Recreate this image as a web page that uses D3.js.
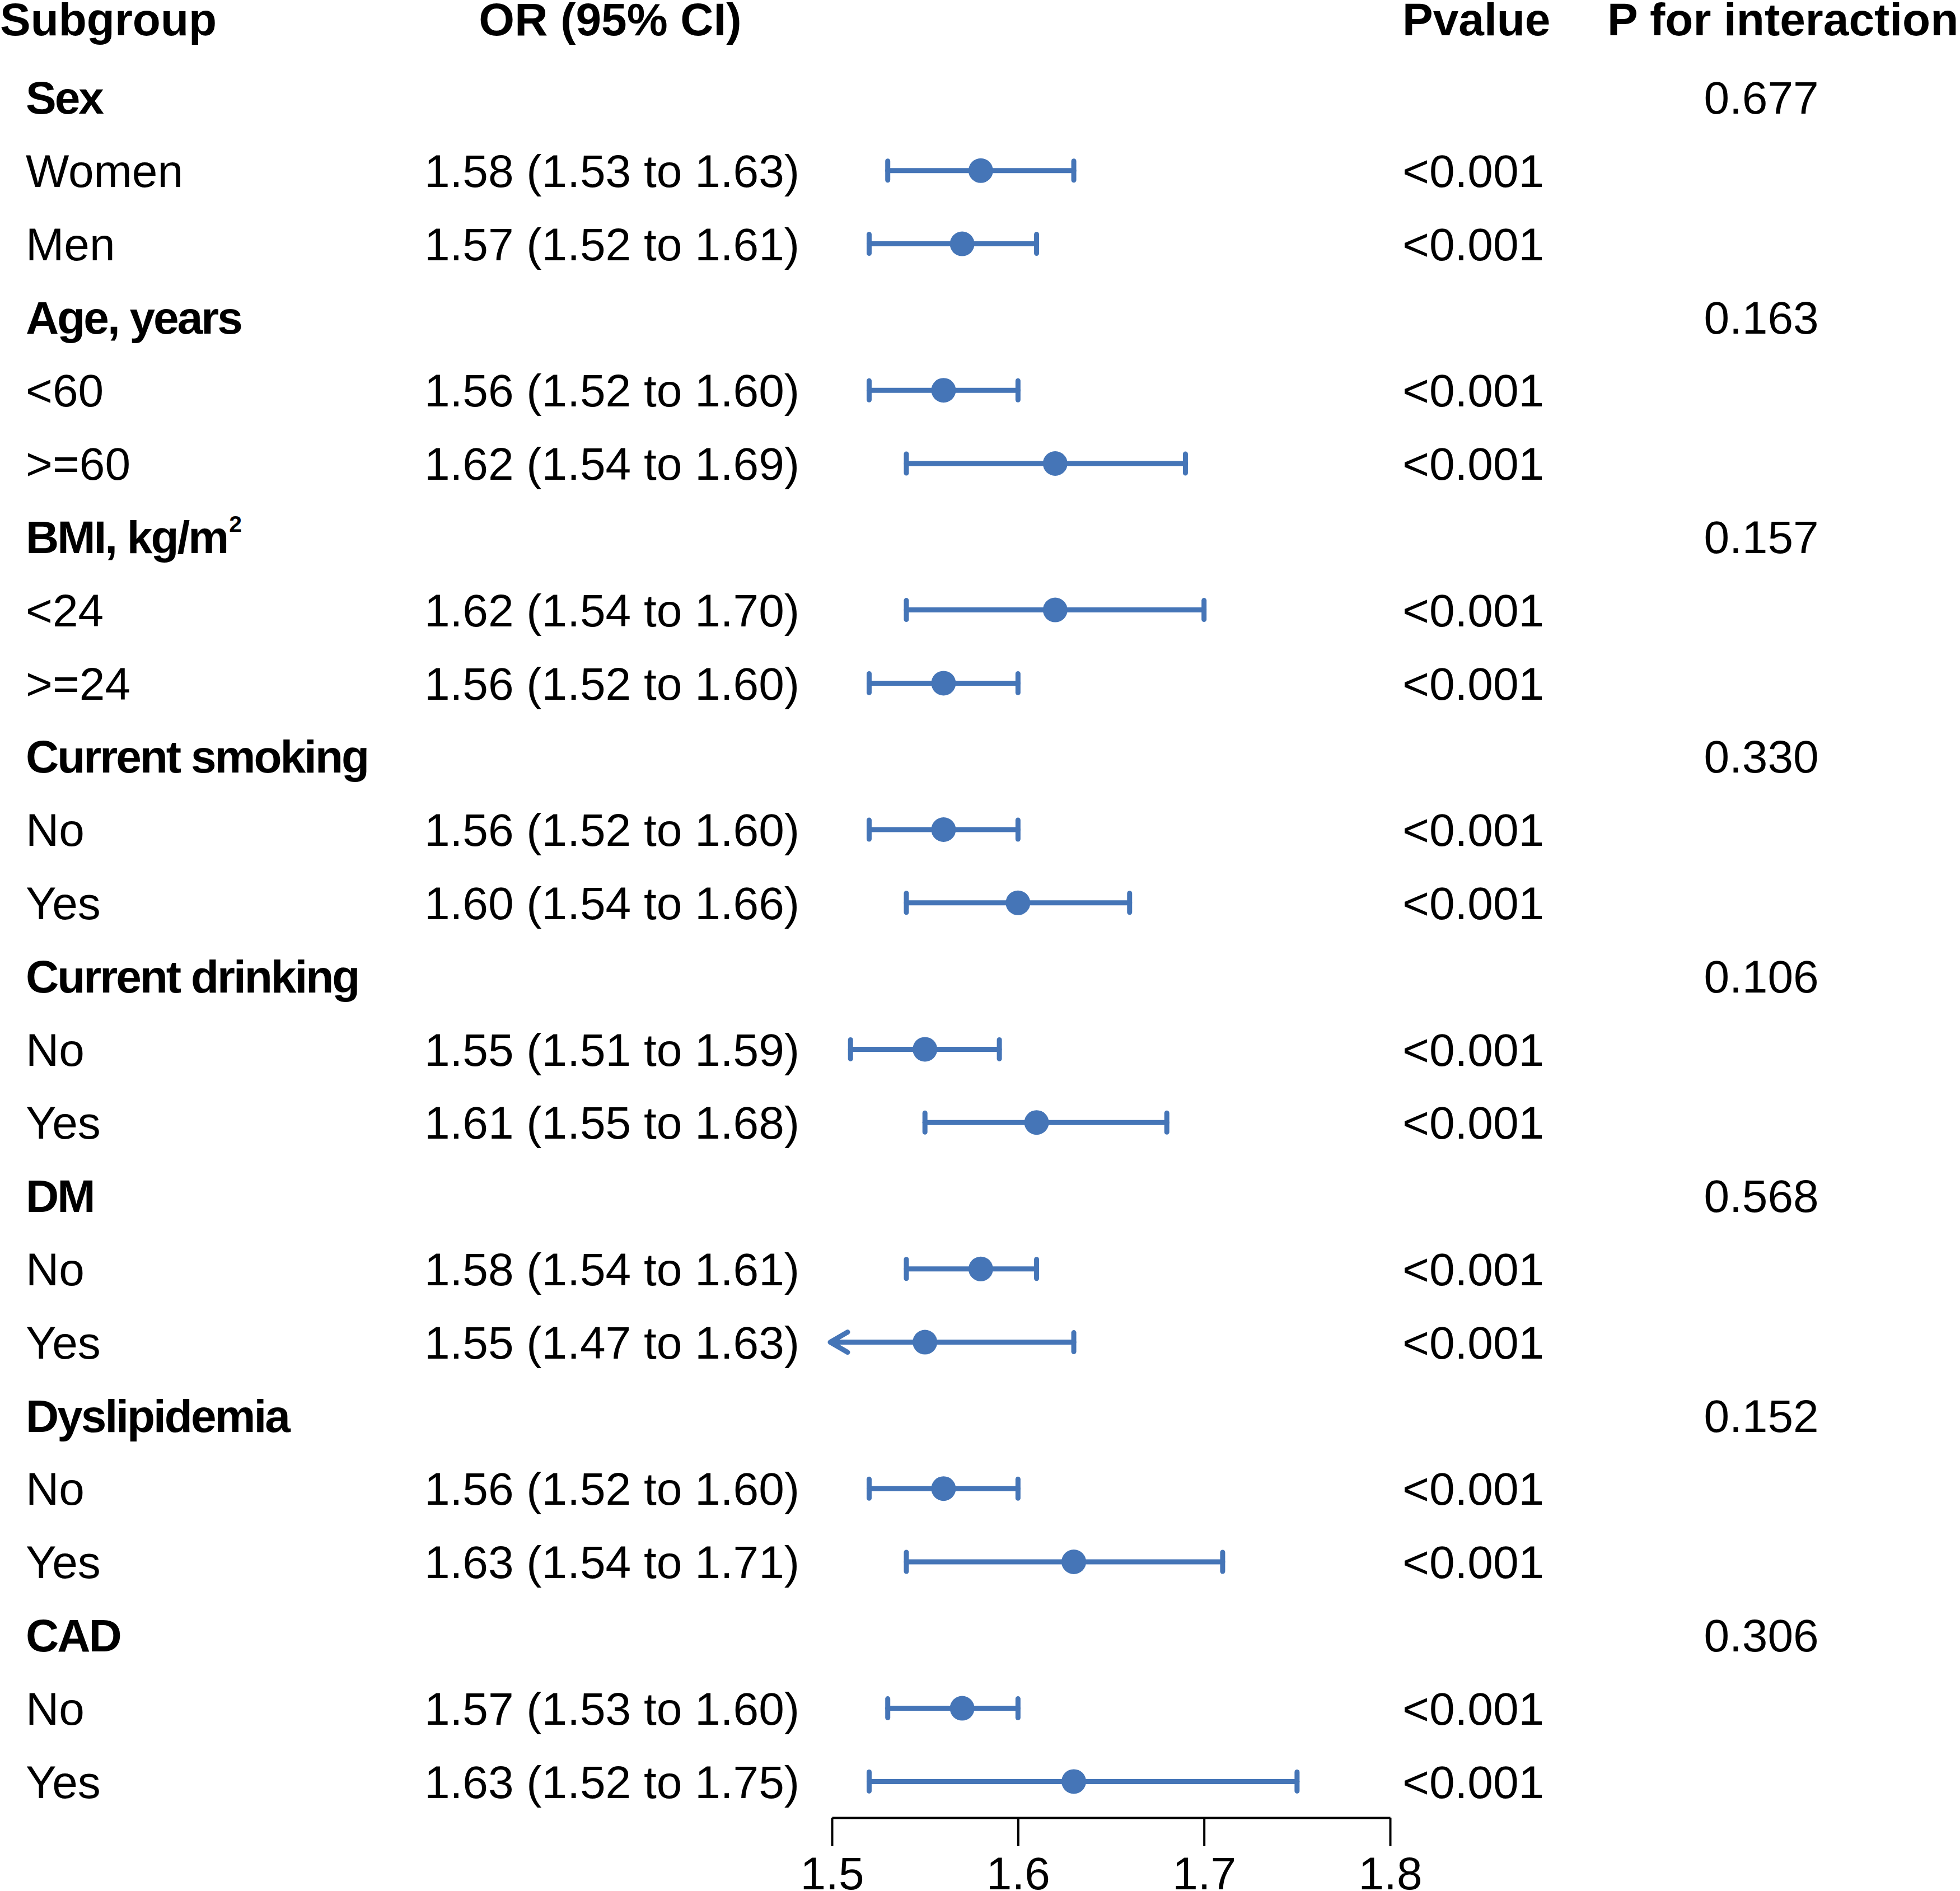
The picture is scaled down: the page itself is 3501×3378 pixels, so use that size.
<!DOCTYPE html>
<html>
<head>
<meta charset="utf-8">
<script src="https://d3js.org/d3.v7.min.js"></script>
<style>
  body { margin: 0; background: #fff; }
  text { font-family: "Liberation Sans", Arial, Helvetica, sans-serif; }
</style>
</head>
<body>
<div id="chart"></div>
<script>
// rows of the forest plot, top to bottom
const labels = ["Sex", "Women", "Men", "Age, years", "<60", ">=60", "BMI, kg/m2", "<24", ">=24",
  "Current smoking", "No", "Yes", "Current drinking", "No", "Yes", "DM", "No", "Yes",
  "Dyslipidemia", "No", "Yes", "CAD", "No", "Yes"];
const isGroup = [1,0,0, 1,0,0, 1,0,0, 1,0,0, 1,0,0, 1,0,0, 1,0,0, 1,0,0];
// odds ratio + 95% CI (null for group header rows)
const orValue = [null,1.58,1.57, null,1.56,1.62, null,1.62,1.56, null,1.56,1.60, null,1.55,1.61, null,1.58,1.55, null,1.56,1.63, null,1.57,1.63];
const ciLow   = [null,1.53,1.52, null,1.52,1.54, null,1.54,1.52, null,1.52,1.54, null,1.51,1.55, null,1.54,1.47, null,1.52,1.54, null,1.53,1.52];
const ciHigh  = [null,1.63,1.61, null,1.60,1.69, null,1.70,1.60, null,1.60,1.66, null,1.59,1.68, null,1.61,1.63, null,1.60,1.71, null,1.60,1.75];
const pValue  = [null,"<0.001","<0.001", null,"<0.001","<0.001", null,"<0.001","<0.001", null,"<0.001","<0.001", null,"<0.001","<0.001", null,"<0.001","<0.001", null,"<0.001","<0.001", null,"<0.001","<0.001"];
const pInteraction = ["0.677",null,null, "0.163",null,null, "0.157",null,null, "0.330",null,null, "0.106",null,null, "0.568",null,null, "0.152",null,null, "0.306",null,null];
const headers = ["Subgroup", "OR (95% CI)", "Pvalue", "P for interaction"];
const xTicks = [1.5, 1.6, 1.7, 1.8];

const width = 3501, height = 3378;
const fontSize = 82;
const blue = "#4575b7";

const svg = d3.select("#chart")
  .append("svg")
    .attr("width", width)
    .attr("height", height);

svg.append("rect").attr("width", width).attr("height", height).attr("fill", "#fff");

const rows = labels.map((d, i) => ({
  label: d, group: isGroup[i] === 1, or: orValue[i], lo: ciLow[i], hi: ciHigh[i],
  p: pValue[i], pint: pInteraction[i]
}));

// vertical position of each row
const y = d3.scaleLinear()
  .domain([0, rows.length - 1])
  .range([174, 174 + 130.8 * (rows.length - 1)]);

// OR axis
const x = d3.scaleLinear()
  .domain([1.5, 1.8])
  .range([1486, 2483]);

// column headers
const headerX = [0, 1090, 2505, 2871];
const headerAnchor = ["start", "middle", "start", "start"];
svg.append("g")
  .selectAll("text")
  .data(headers)
  .join("text")
    .attr("x", (d, i) => headerX[i])
    .attr("y", 63)
    .attr("text-anchor", (d, i) => headerAnchor[i])
    .attr("font-size", fontSize)
    .attr("font-weight", "bold")
    .text(d => d);

const baseShift = 0.355 * fontSize;

// subgroup column (group names bold and a bit tighter)
const lab = svg.append("g")
  .selectAll("text")
  .data(rows)
  .join("text")
    .attr("x", 46)
    .attr("y", (d, i) => y(i) + baseShift)
    .attr("font-size", fontSize)
    .attr("font-weight", d => d.group ? "bold" : "normal")
    .attr("letter-spacing", d => d.group ? -3 : 0);

lab.each(function(d) {
  const t = d3.select(this);
  if (d.label === "BMI, kg/m2") {
    t.append("tspan").text("BMI, kg/m");
    t.append("tspan").attr("font-size", fontSize * 0.5).attr("dy", -38).attr("dx", 3).text("2");
  } else {
    t.text(d.label);
  }
});

// OR (95% CI) text
svg.append("g")
  .selectAll("text")
  .data(rows.map((d, i) => ({...d, i})).filter(d => d.or !== null))
  .join("text")
    .attr("x", 1093)
    .attr("y", d => y(d.i) + baseShift)
    .attr("text-anchor", "middle")
    .attr("font-size", fontSize)
    .text(d => `${d.or.toFixed(2)} (${d.lo.toFixed(2)} to ${d.hi.toFixed(2)})`);

// P value
svg.append("g")
  .selectAll("text")
  .data(rows.map((d, i) => ({...d, i})).filter(d => d.p !== null))
  .join("text")
    .attr("x", 2505)
    .attr("y", d => y(d.i) + baseShift)
    .attr("font-size", fontSize)
    .text(d => d.p);

// P for interaction
svg.append("g")
  .selectAll("text")
  .data(rows.map((d, i) => ({...d, i})).filter(d => d.pint !== null))
  .join("text")
    .attr("x", 3146)
    .attr("y", d => y(d.i) + baseShift)
    .attr("text-anchor", "middle")
    .attr("font-size", fontSize)
    .text(d => d.pint);

// error bars
const est = rows.map((d, i) => ({...d, i})).filter(d => d.or !== null);
const xmin = x.domain()[0];
const bars = svg.append("g")
  .attr("stroke", blue)
  .attr("stroke-width", 9)
  .attr("stroke-linecap", "round")
  .attr("fill", "none");

bars.selectAll("line.ci")
  .data(est)
  .join("line")
    .attr("class", "ci")
    .attr("x1", d => x(Math.max(d.lo, xmin)))
    .attr("x2", d => x(d.hi))
    .attr("y1", d => y(d.i))
    .attr("y2", d => y(d.i));

// end caps (left one only when the CI fits inside the axis)
bars.selectAll("line.capl")
  .data(est.filter(d => d.lo >= xmin))
  .join("line")
    .attr("class", "capl")
    .attr("x1", d => x(d.lo)).attr("x2", d => x(d.lo))
    .attr("y1", d => y(d.i) - 17).attr("y2", d => y(d.i) + 17);

bars.selectAll("line.capr")
  .data(est)
  .join("line")
    .attr("class", "capr")
    .attr("x1", d => x(d.hi)).attr("x2", d => x(d.hi))
    .attr("y1", d => y(d.i) - 17).attr("y2", d => y(d.i) + 17);

// arrow for CI cut off at the axis
bars.selectAll("path.arrow")
  .data(est.filter(d => d.lo < xmin))
  .join("path")
    .attr("class", "arrow")
    .attr("stroke-linejoin", "round")
    .attr("d", d => {
      const x0 = x(xmin) - 3, yy = y(d.i);
      return `M${x0 + 31},${yy - 18}L${x0},${yy}L${x0 + 31},${yy + 18}`;
    });

// points
svg.append("g")
  .selectAll("circle")
  .data(est)
  .join("circle")
    .attr("cx", d => x(d.or))
    .attr("cy", d => y(d.i))
    .attr("r", 22)
    .attr("fill", blue);

// x axis
const axis = svg.append("g")
  .attr("transform", "translate(0,3247)")
  .call(d3.axisBottom(x).tickValues(xTicks).tickFormat(d3.format(".1f"))
    .tickSize(51).tickSizeOuter(0).tickPadding(19));

axis.select(".domain").attr("stroke", "#000").attr("stroke-width", 4);
axis.selectAll(".tick line").attr("stroke", "#000").attr("stroke-width", 4);
axis.selectAll(".tick text")
  .attr("fill", "#000")
  .attr("font-size", fontSize)
  .attr("font-family", "'Liberation Sans', Arial, sans-serif");
</script>
</body>
</html>
